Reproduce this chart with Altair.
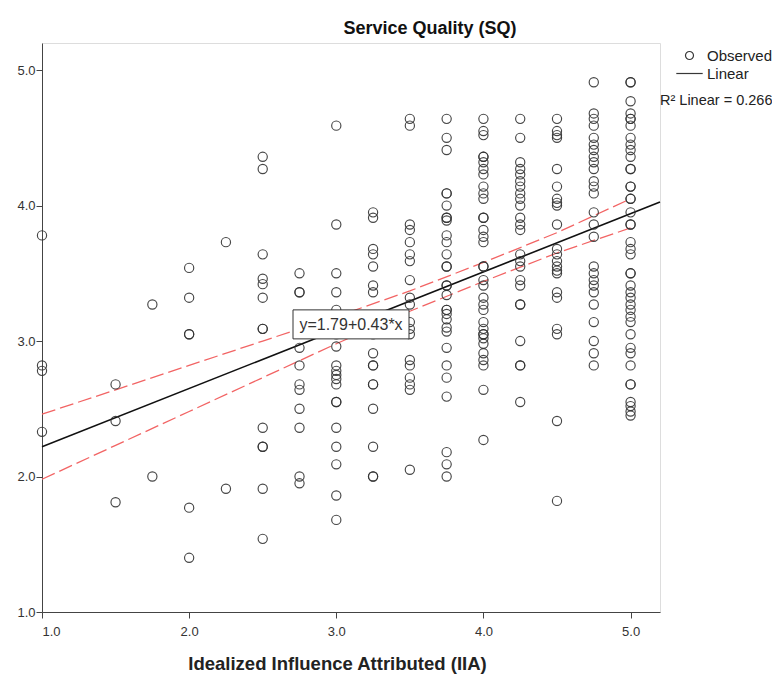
import altair as alt
import pandas as pd

x_levels = [1.0, 1.5, 1.75, 2.0, 2.25, 2.5, 2.75, 3.0, 3.25, 3.5, 3.75, 4.0, 4.25, 4.5, 4.75, 5.0]

y_at_1_00 = [3.78, 2.82, 2.78, 2.33]
y_at_1_50 = [2.68, 2.41, 1.81]
y_at_1_75 = [3.27, 2.00]
y_at_2_00 = [3.54, 3.32, 3.05, 3.05, 1.77, 1.40]
y_at_2_25 = [3.73, 1.91]
y_at_2_50 = [4.36, 4.27, 3.64, 3.46, 3.42, 3.32, 3.09, 3.09, 2.36, 2.22, 2.22, 1.91, 1.54]
y_at_2_75 = [3.50, 3.36, 3.36, 3.09, 2.95, 2.82, 2.68, 2.64, 2.50, 2.36, 2.00, 1.95]
y_at_3_00 = [4.59, 3.86, 3.50, 3.36, 3.23, 3.09, 3.05, 2.96, 2.82, 2.78, 2.75, 2.72, 2.68,
             2.55, 2.55, 2.36, 2.22, 2.09, 1.86, 1.68]
y_at_3_25 = [3.95, 3.91, 3.68, 3.64, 3.55, 3.41, 3.36, 3.05, 2.91, 2.82, 2.82, 2.68, 2.68,
             2.50, 2.22, 2.00, 2.00]
y_at_3_50 = [4.64, 4.59, 3.86, 3.82, 3.73, 3.64, 3.59, 3.45, 3.32, 3.27, 3.14, 3.09, 3.05,
             2.86, 2.82, 2.73, 2.68, 2.64, 2.05]
y_at_3_75 = [4.64, 4.50, 4.41, 4.09, 4.09, 4.00, 3.91, 3.91, 3.89, 3.78, 3.73, 3.64, 3.55,
             3.55, 3.41, 3.41, 3.34, 3.23, 3.23, 3.20, 3.16, 3.10, 3.07, 2.95, 2.82, 2.73,
             2.59, 2.18, 2.09, 2.00]
y_at_4_00 = [4.64, 4.55, 4.52, 4.36, 4.36, 4.32, 4.27, 4.23, 4.14, 4.09, 4.05, 3.91, 3.91,
             3.82, 3.77, 3.73, 3.55, 3.55, 3.45, 3.41, 3.32, 3.27, 3.23, 3.14, 3.09, 3.05,
             3.05, 3.02, 2.98, 2.91, 2.86, 2.82, 2.64, 2.27]
y_at_4_25 = [4.64, 4.50, 4.32, 4.27, 4.23, 4.18, 4.14, 4.09, 4.05, 4.00, 3.91, 3.86, 3.82,
             3.64, 3.59, 3.55, 3.45, 3.41, 3.27, 3.27, 3.00, 2.82, 2.82, 2.55]
y_at_4_50 = [4.64, 4.55, 4.52, 4.50, 4.27, 4.14, 4.05, 4.02, 4.00, 3.86, 3.68, 3.64, 3.59,
             3.55, 3.52, 3.50, 3.36, 3.32, 3.09, 3.05, 2.41, 1.82]
y_at_4_75 = [4.91, 4.68, 4.64, 4.59, 4.50, 4.45, 4.41, 4.36, 4.32, 4.27, 4.18, 4.14, 4.09,
             3.95, 3.86, 3.77, 3.55, 3.50, 3.45, 3.41, 3.36, 3.27, 3.14, 3.00, 2.91, 2.82]
y_at_5_00 = [4.91, 4.91, 4.77, 4.68, 4.64, 4.64, 4.59, 4.50, 4.45, 4.41, 4.36, 4.27, 4.27,
             4.14, 4.14, 4.05, 4.05, 3.95, 3.86, 3.86, 3.73, 3.68, 3.64, 3.50, 3.50, 3.41,
             3.36, 3.32, 3.27, 3.23, 3.18, 3.14, 3.05, 2.95, 2.91, 2.82, 2.68, 2.68, 2.55,
             2.52, 2.48, 2.45]

y_columns = [y_at_1_00, y_at_1_50, y_at_1_75, y_at_2_00, y_at_2_25, y_at_2_50, y_at_2_75,
             y_at_3_00, y_at_3_25, y_at_3_50, y_at_3_75, y_at_4_00, y_at_4_25, y_at_4_50,
             y_at_4_75, y_at_5_00]

# ---- fitted line (printed equation) and its 95% confidence band ----
intercept = 1.79
slope = 0.43
r_squared = 0.266
fit_x = [1.0, 5.2]

band_x = [1.0, 1.5, 2.0, 2.5, 3.0, 3.5, 4.0, 4.5, 5.0]
band_upper = [2.46, 2.64, 2.82, 3.00, 3.18, 3.37, 3.58, 3.80, 4.05]
band_lower = [1.98, 2.23, 2.48, 2.73, 2.98, 3.22, 3.44, 3.65, 3.835]

label_x = 3.1
axis_ticks = [1.0, 2.0, 3.0, 4.0, 5.0]

# ---- tables ----
pts = pd.DataFrame(
    [{"x": xv, "y": yv, "series": "Observed"} for xv, col in zip(x_levels, y_columns) for yv in col]
)
fit = pd.DataFrame({"x": fit_x, "y": [intercept + slope * v for v in fit_x]})
band = pd.concat([
    pd.DataFrame({"x": band_x, "y": band_upper, "bound": "upper"}),
    pd.DataFrame({"x": band_x, "y": band_lower, "bound": "lower"}),
])
eq = pd.DataFrame({"x": [label_x], "y": [intercept + slope * label_x],
                   "label": [f"y={intercept:.2f}+{slope:.2f}*x"]})
r2 = pd.DataFrame({"label": [f"R\u00b2 Linear = {r_squared:.3f}"]})

FONT = "Liberation Sans"
xscale = alt.Scale(domain=[1.0, 5.2], nice=False, zero=False)
yscale = alt.Scale(domain=[1.0, 5.2], nice=False, zero=False)

x_enc = alt.X("x:Q", scale=xscale,
              axis=alt.Axis(values=axis_ticks, format=".1f", grid=False,
                            title="Idealized Influence Attributed (IIA)",
                            titleFontSize=18.5, titleFontWeight="bold", titleFont=FONT,
                            titleColor="#222", titlePadding=16, titleX=295,
                            labelFontSize=13, labelFont=FONT, labelColor="#333",
                            tickSize=6, labelPadding=7, domainColor="#444", tickColor="#444"))
y_enc = alt.Y("y:Q", scale=yscale,
              axis=alt.Axis(values=axis_ticks, format=".1f", grid=False, title=None,
                            labelFontSize=13, labelFont=FONT, labelColor="#333",
                            tickSize=6, labelPadding=1, domainColor="#444", tickColor="#444"))

points = alt.Chart(pts).mark_point(filled=False, size=85, strokeWidth=1.15, color="#333",
                                   opacity=0.9).encode(
    x=x_enc, y=y_enc,
    shape=alt.Shape("series:N",
                    scale=alt.Scale(domain=["Observed", "Linear"],
                                    range=["circle", "M-3.3,0H3.3"]),
                    legend=alt.Legend(orient="none", legendX=640, legendY=5, title=None,
                                      symbolSize=64, symbolStrokeColor="#222",
                                      symbolStrokeWidth=1.2, symbolFillColor="transparent",
                                      labelFontSize=15, labelFont=FONT, labelColor="#222",
                                      labelOffset=10, rowPadding=2, symbolOffset=0))
)

band_lines = alt.Chart(band).mark_line(color="#f26464", strokeWidth=1.3,
                                       strokeDash=[14, 5]).encode(
    x=x_enc, y=y_enc, detail="bound:N")

fit_line = alt.Chart(fit).mark_line(color="#111", strokeWidth=1.6).encode(x=x_enc, y=y_enc)

eq_box = alt.Chart(eq).mark_point(shape="M-2,-0.5H2V0.5H-2Z", size=3364, filled=True,
                                  fill="white", stroke="#333", strokeWidth=1,
                                  opacity=1).encode(x=x_enc, y=y_enc)
eq_text = alt.Chart(eq).mark_text(font=FONT, fontSize=16, color="#333", align="center",
                                  baseline="middle", dy=1).encode(x=x_enc, y=y_enc, text="label:N")

r2_text = alt.Chart(r2).mark_text(font=FONT, fontSize=14.5, color="#222", align="left",
                                  baseline="alphabetic").encode(
    x=alt.value(618), y=alt.value(62), text="label:N")

chart = alt.layer(band_lines, fit_line, points, eq_box, eq_text, r2_text).properties(
    width=618, height=569,
    autosize=alt.AutoSizeParams(type="none"),
    padding={"left": 34, "top": 35, "right": 112, "bottom": 65},
    title=alt.TitleParams("Service Quality (SQ)", fontSize=18, fontWeight="bold", font=FONT,
                          color="#111", anchor="middle", dx=79, offset=5),
).configure_view(stroke="#444", strokeWidth=1).configure(background="white")

chart.save("out.html", embed_options={"renderer": "svg", "actions": False})
